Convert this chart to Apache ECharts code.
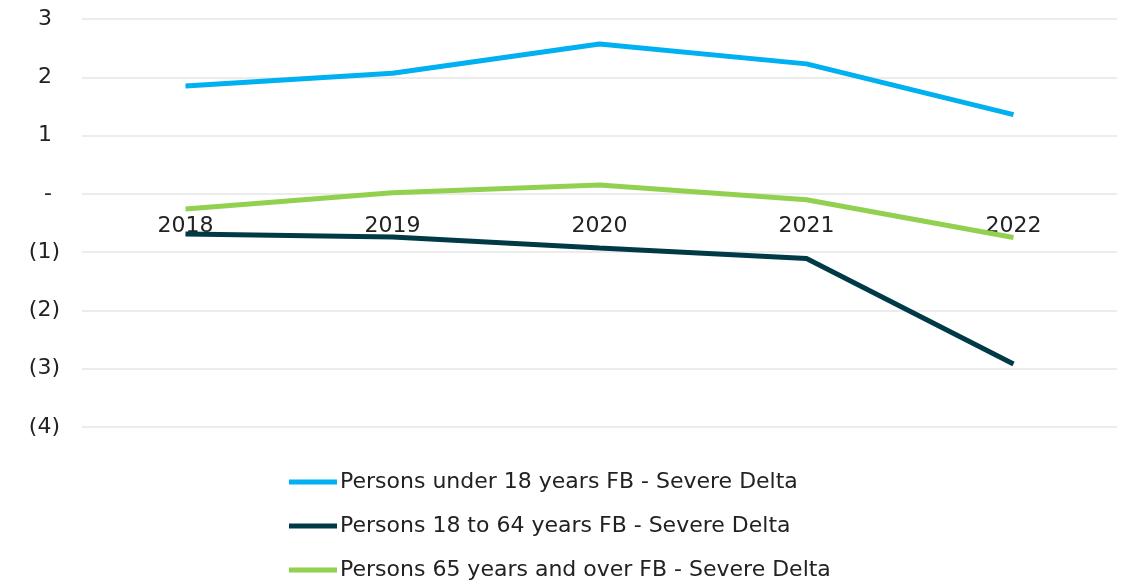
<!DOCTYPE html>
<html>
<head>
<meta charset="utf-8">
<script src="https://cdn.jsdelivr.net/npm/echarts@6/dist/echarts.min.js"></script>
<style>
  html, body { margin: 0; padding: 0; background: #fff; }
  #chart { width: 1125px; height: 582px; }
</style>
</head>
<body>
<div id="chart"></div>
<script>
  // 数据
  const years = ['2018', '2019', '2020', '2021', '2022'];
  const under18 = [1.85, 2.07, 2.57, 2.23, 1.36];
  const age18to64 = [-0.69, -0.74, -0.93, -1.11, -2.92];
  const over65 = [-0.26, 0.02, 0.15, -0.10, -0.75];
  const seriesNames = [
    'Persons under 18 years FB - Severe Delta',
    'Persons 18 to 64 years FB - Severe Delta',
    'Persons 65 years and over FB - Severe Delta'
  ];
  const colors = ['#00B0F0', '#003A47', '#92D050'];
  const legendTops = [466, 510, 554];

  const myChart = echarts.init(document.getElementById('chart'));
  const font = '"DejaVu Sans", sans-serif';
  const txt = '#222';

  // 会计格式的纵轴标签
  function fmt(v) {
    if (v === 0) return '{p|-}';
    if (v < 0) return '{n|(' + (-v) + ')}';
    return '{p|' + v + '}';
  }

  const option = {
    animation: false,
    textStyle: { fontFamily: font },
    color: colors,
    grid: { left: 82, right: 8, top: 19, bottom: 155 },
    // 每个图例单独一行
    legend: seriesNames.map((n, i) => ({
      orient: 'vertical',
      left: 284,
      top: legendTops[i],
      icon: 'rect',
      itemWidth: 48,
      itemHeight: 5,
      textStyle: { fontSize: 22, color: txt, fontFamily: font, padding: [0, 0, 0, -2] },
      data: [n]
    })),
    xAxis: {
      type: 'category',
      data: years,
      axisLine: { show: false },
      axisTick: { show: false },
      // 标签放在零线下方
      axisLabel: { fontSize: 22, color: txt, margin: -212, fontFamily: font }
    },
    yAxis: {
      type: 'value',
      min: -4,
      max: 3,
      interval: 1,
      axisLine: { show: false },
      axisTick: { show: false },
      splitLine: { lineStyle: { color: '#e6e6e6', width: 1.5 } },
      axisLabel: {
        margin: 22,
        formatter: fmt,
        rich: {
          p: { fontSize: 22, color: txt, padding: [0, 8, 0, 0], fontFamily: font },
          n: { fontSize: 22, color: txt, fontFamily: font }
        }
      }
    },
    series: [
      { name: seriesNames[0], type: 'line', data: under18 },
      { name: seriesNames[1], type: 'line', data: age18to64 },
      { name: seriesNames[2], type: 'line', data: over65 }
    ].map(s => Object.assign(s, {
      symbol: 'none',
      lineStyle: { width: 5 }
    }))
  };

  myChart.setOption(option);
</script>
</body>
</html>
